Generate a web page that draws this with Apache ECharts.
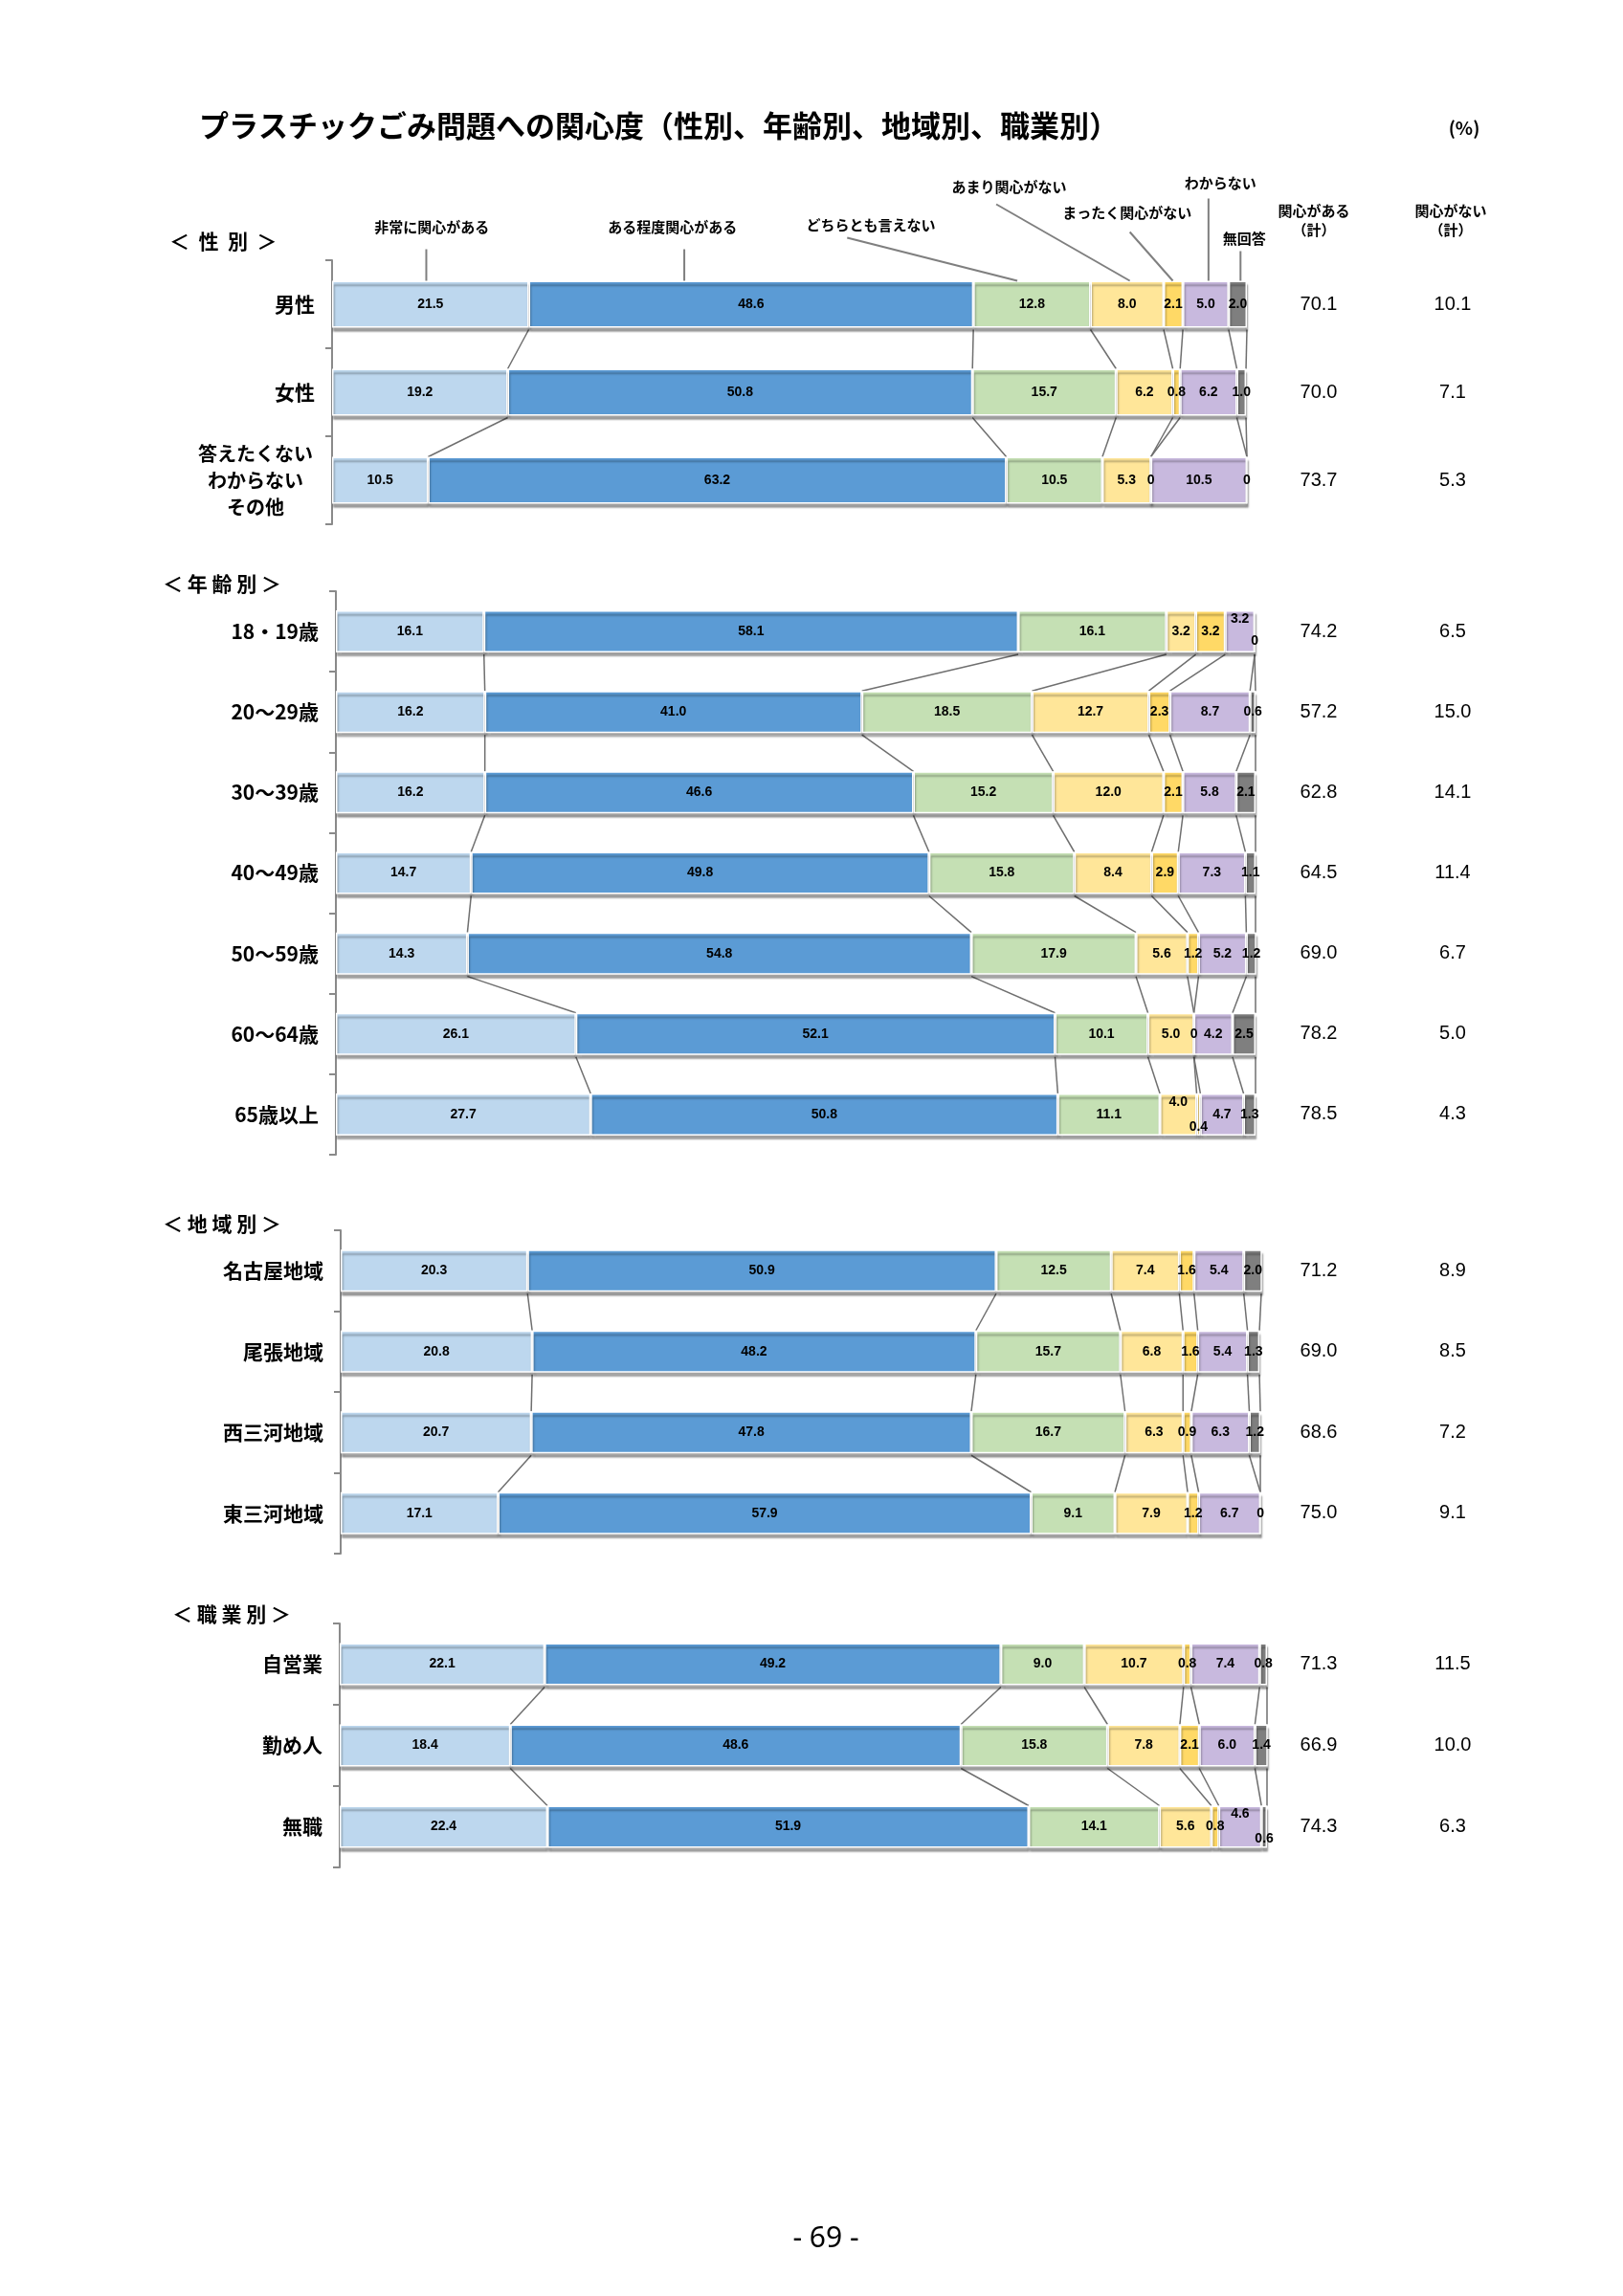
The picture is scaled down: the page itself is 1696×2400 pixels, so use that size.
<!DOCTYPE html>
<html><head><meta charset="utf-8">
<script src="https://cdn.jsdelivr.net/npm/echarts@6/dist/echarts.min.js"></script>
<style>html,body{margin:0;padding:0;background:#fff}#c{width:1696px;height:2400px}</style>
</head><body><div id="c"></div>
<script>
// ---------- DATA ----------
const seriesNames = ['非常に関心がある','ある程度関心がある','どちらとも言えない','あまり関心がない','まったく関心がない','わからない','無回答'];

const genderCategories = ['男性','女性','答えたくない\nわからない\nその他'];
const genderValues = [
  [21.5,48.6,12.8,8.0,2.1,5.0,2.0],
  [19.2,50.8,15.7,6.2,0.8,6.2,1.0],
  [10.5,63.2,10.5,5.3,0,10.5,0]
];
const genderInterested = [70.1,70.0,73.7];
const genderNotInterested = [10.1,7.1,5.3];

const ageCategories = ['18・19歳','20～29歳','30～39歳','40～49歳','50～59歳','60～64歳','65歳以上'];
const ageValues = [
  [16.1,58.1,16.1,3.2,3.2,3.2,0],
  [16.2,41.0,18.5,12.7,2.3,8.7,0.6],
  [16.2,46.6,15.2,12.0,2.1,5.8,2.1],
  [14.7,49.8,15.8,8.4,2.9,7.3,1.1],
  [14.3,54.8,17.9,5.6,1.2,5.2,1.2],
  [26.1,52.1,10.1,5.0,0,4.2,2.5],
  [27.7,50.8,11.1,4.0,0.4,4.7,1.3]
];
const ageInterested = [74.2,57.2,62.8,64.5,69.0,78.2,78.5];
const ageNotInterested = [6.5,15.0,14.1,11.4,6.7,5.0,4.3];

const regionCategories = ['名古屋地域','尾張地域','西三河地域','東三河地域'];
const regionValues = [
  [20.3,50.9,12.5,7.4,1.6,5.4,2.0],
  [20.8,48.2,15.7,6.8,1.6,5.4,1.3],
  [20.7,47.8,16.7,6.3,0.9,6.3,1.2],
  [17.1,57.9,9.1,7.9,1.2,6.7,0]
];
const regionInterested = [71.2,69.0,68.6,75.0];
const regionNotInterested = [8.9,8.5,7.2,9.1];

const jobCategories = ['自営業','勤め人','無職'];
const jobValues = [
  [22.1,49.2,9.0,10.7,0.8,7.4,0.8],
  [18.4,48.6,15.8,7.8,2.1,6.0,1.4],
  [22.4,51.9,14.1,5.6,0.8,4.6,0.6]
];
const jobInterested = [71.3,66.9,74.3];
const jobNotInterested = [11.5,10.0,6.3];

// ---------- STYLE / LAYOUT ----------
const colors = ['#BDD7EE','#5B9BD5','#C5E0B4','#FFE699','#FFD966','#C8B9DE','#7F7F7F'];
const JP = '"Noto Sans CJK JP", sans-serif';
const NUM = '"Liberation Sans", Arial, sans-serif';
const TOT1_X = 1378, TOT2_X = 1518;

const sections = [
  {header:'＜  性  別  ＞', hx:247, hy:256, cats:genderCategories, vals:genderValues, t1:genderInterested, t2:genderNotInterested,
   left:347, width:956, top:272, height:276, barWidth:49},
  {header:'＜ 年 齢 別 ＞', hx:240, hy:614, cats:ageCategories, vals:ageValues, t1:ageInterested, t2:ageNotInterested,
   left:351, width:961, top:618, height:589, barWidth:44},
  {header:'＜ 地 域 別 ＞', hx:240, hy:1283, cats:regionCategories, vals:regionValues, t1:regionInterested, t2:regionNotInterested,
   left:356, width:962, top:1286, height:338, barWidth:44},
  {header:'＜ 職 業 別 ＞', hx:250, hy:1691, cats:jobCategories, vals:jobValues, t1:jobInterested, t2:jobNotInterested,
   left:355, width:969, top:1697, height:255, barWidth:44}
];

// special placement of crowded value labels (category|series index)
const labelPlacement = {
  '18・19歳|5': {position:'insideTop', distance:2},
  '18・19歳|6': {position:'insideBottom', distance:6},
  '65歳以上|3': {position:'insideTop', distance:2},
  '65歳以上|4': {position:'insideBottom', distance:2},
  '無職|5': {position:'insideTop', distance:2},
  '無職|6': {position:'insideBottom', distance:2}
};

// callouts naming each series above the first gender bar
// tx: text x (axis value), ty: px above bar top; line from (lx1, ly1 px above top) to (lx2, bar top)
const callouts = [
  {tx:10.9, ty:56, lx1:10.3, ly1:33, lx2:10.3},
  {tx:37.2, ty:56, lx1:38.5, ly1:33, lx2:38.5},
  {tx:58.9, ty:58, lx1:56.3, ly1:45, lx2:74.9},
  {tx:74.0, ty:98, lx1:72.6, ly1:80, lx2:87.2},
  {tx:86.9, ty:71, lx1:87.2, ly1:51, lx2:91.9},
  {tx:97.1, ty:102, lx1:95.8, ly1:86, lx2:95.8},
  {tx:99.7, ty:44, lx1:99.3, ly1:31, lx2:99.3}
];

const fmt = v => v === 0 ? '0' : v.toFixed(1);

const option = {
  backgroundColor:'#ffffff', animation:false,
  grid:[], xAxis:[], yAxis:[], series:[], graphic:[]
};

sections.forEach((s, gi) => {
  option.grid.push({left:s.left, top:s.top, width:s.width, height:s.height});
  option.xAxis.push({type:'value', gridIndex:gi, min:0, max:100, show:false});
  option.yAxis.push({
    type:'category', gridIndex:gi, data:s.cats, inverse:true,
    axisLine:{show:true, lineStyle:{color:'#8a8a8a', width:2}},
    axisTick:{show:true, length:7, lineStyle:{color:'#8a8a8a', width:2}},
    axisLabel:{
      margin:18, color:'#000', fontSize:21, fontWeight:'bold', fontFamily:JP,
      formatter: v => v.indexOf('\n') >= 0 ? v.split('\n').map(l => '{m|' + l + '}').join('\n') : v,
      rich:{m:{width:124, align:'center', fontSize:20, fontWeight:'bold', fontFamily:JP, lineHeight:28, color:'#000'}}
    }
  });
  const start = s.left + s.width + 10;
  const wa = 2 * (TOT1_X - start);
  const wb = 2 * (TOT2_X - (start + wa));
  option.yAxis.push({
    type:'category', gridIndex:gi, data:s.cats, inverse:true, position:'right',
    axisLine:{show:false}, axisTick:{show:false},
    axisLabel:{
      margin:10, align:'left',
      formatter:(v, i) => '{a|' + s.t1[i].toFixed(1) + '}{b|' + s.t2[i].toFixed(1) + '}',
      rich:{
        a:{width:wa, align:'center', fontSize:20, fontFamily:NUM, color:'#000'},
        b:{width:wb, align:'center', fontSize:20, fontFamily:NUM, color:'#000'}
      }
    }
  });
  const yMain = gi * 2;
  seriesNames.forEach((name, k) => {
    option.series.push({
      type:'bar', name, xAxisIndex:gi, yAxisIndex:yMain, stack:'st' + gi,
      barWidth:s.barWidth, z:3,
      data:s.vals.map((row, i) => {
        const p = labelPlacement[s.cats[i] + '|' + k];
        return p ? {value:row[k], label:p} : row[k];
      }),
      itemStyle:{color:colors[k], borderColor:'#ffffff', borderWidth:1.5,
        shadowColor:'rgba(0,0,0,0.35)', shadowBlur:2, shadowOffsetX:1, shadowOffsetY:4},
      label:{show:true, position:'inside', formatter:p => fmt(p.value),
        fontSize:14, fontWeight:'bold', fontFamily:NUM, color:'#000'}
    });
  });
  // series lines connecting the segment boundaries of consecutive bars
  const bw = s.barWidth;
  const vals = s.vals;
  option.series.push({
    type:'custom', xAxisIndex:gi, yAxisIndex:yMain, z:1, silent:true, clip:false,
    data:vals.slice(0, -1).map((_, i) => [0, i]),
    encode:{x:0, y:1},
    renderItem:(params, api) => {
      const i = api.value(1);
      const children = [];
      let cA = 0, cB = 0;
      for (let k = 0; k < seriesNames.length; k++) {
        cA += vals[i][k]; cB += vals[i + 1][k];
        const p1 = api.coord([Math.min(cA, 100), i]);
        const p2 = api.coord([Math.min(cB, 100), i + 1]);
        children.push({type:'line', shape:{x1:p1[0], y1:p1[1] + bw / 2 + 2, x2:p2[0], y2:p2[1] - bw / 2},
          style:{stroke:'#6f6f6f', lineWidth:1.5}});
      }
      return {type:'group', children};
    }
  });
  if (gi === 0) {
    option.series.push({
      type:'custom', xAxisIndex:gi, yAxisIndex:yMain, z:4, silent:true, clip:false,
      data:[[0, 0]], encode:{x:0, y:1},
      renderItem:(params, api) => {
        const top = api.coord([0, 0])[1] - bw / 2;
        const children = [];
        callouts.forEach((c, k) => {
          children.push({type:'line', shape:{x1:api.coord([c.lx1, 0])[0], y1:top - c.ly1, x2:api.coord([c.lx2, 0])[0], y2:top},
            style:{stroke:'#7f7f7f', lineWidth:2}});
          children.push({type:'text', style:{text:seriesNames[k], x:api.coord([c.tx, 0])[0], y:top - c.ty,
            align:'center', verticalAlign:'middle', font:'bold 15px ' + JP, fill:'#000'}});
        });
        return {type:'group', children};
      }
    });
  }
  option.graphic.push({type:'text', left:s.hx - 70, top:s.hy - 14,
    style:{text:s.header, font:'bold 21px ' + JP, fill:'#000', width:140, align:'center'},
    x:0});
});

option.graphic.push(
  {type:'text', x:208, y:131, style:{text:'プラスチックごみ問題への関心度（性別、年齢別、地域別、職業別）', font:'bold 31px ' + JP, fill:'#000', verticalAlign:'middle'}},
  {type:'text', x:1530, y:134, style:{text:'(%)', font:'bold 19px ' + JP, fill:'#000', align:'center', verticalAlign:'middle'}},
  {type:'text', x:TOT1_X - 5, y:230, style:{text:'関心がある\n（計）', font:'bold 15px ' + JP, fill:'#000', align:'center', verticalAlign:'middle', lineHeight:20}},
  {type:'text', x:TOT2_X - 2, y:230, style:{text:'関心がない\n（計）', font:'bold 15px ' + JP, fill:'#000', align:'center', verticalAlign:'middle', lineHeight:20}},
  {type:'text', x:863, y:2340, style:{text:'- 69 -', font:'30px "Noto Sans", sans-serif', fill:'#000', align:'center', verticalAlign:'middle'}}
);

const chart = echarts.init(document.getElementById('c'), null, {renderer:'canvas'});
chart.setOption(option);
</script></body></html>
